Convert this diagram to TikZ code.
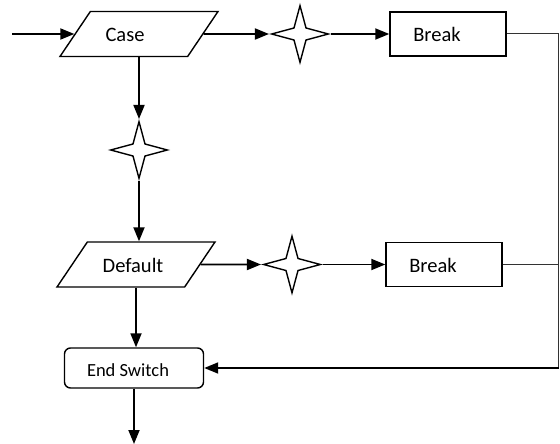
\documentclass[tikz,border=0pt]{standalone}
\usepackage{fontspec}
\setmainfont{Carlito}
\usetikzlibrary{shapes.geometric,arrows.meta}

\newcommand{\lefttext}[2][22pt]{#2\kern#1}

\tikzset{
    flow/.style={line width=1.8pt, -{Triangle[length=14pt,width=11pt]}},
    wire/.style={line width=1pt, black!80},
    label/.style={font=\fontsize{20.5}{24}\selectfont, text height=17pt, text depth=1pt},
    io/.style={label, draw, line width=1.4pt, trapezium, trapezium left angle=56,
        trapezium right angle=124, trapezium stretches body, inner ysep=13.5pt,
        minimum width=158pt, minimum height=45pt},
    box/.style={label, draw, line width=1.4pt, minimum width=116pt, minimum height=44pt},
    spark/.style={draw, line width=1.4pt, star, star points=4, star point ratio=0.3,
        shape border rotate=45, minimum size=17pt, inner sep=0pt},
}

\begin{document}
\begin{tikzpicture}[x=1pt,y=-1pt]
    \useasboundingbox (0,0) rectangle (560,444);
    \coordinate (in) at (12,34);
    \coordinate (out) at (134,444);
    \coordinate (rc) at (558.5,368);

    % case row
    \node[io] (case) at (139,34) {\lefttext[28pt]{Case}};
    \node[spark] (s1) at (300,34) {};
    \node[box] (b1) at (448,34) {\lefttext{Break}};

    \node[spark] (s2) at (139,150) {};

    % default row
    \node[io] (default) at (136,264.5) {\lefttext[6pt]{Default}};
    \node[spark] (s3) at (292,264.5) {};
    \node[box] (b2) at (444,264.5) {\lefttext{Break}};

    \node[label, font=\fontsize{18.5}{22}\selectfont, draw, line width=1.4pt,
        rounded corners=6pt, minimum width=139pt, minimum height=40pt]
        (endsw) at (134,368) {\lefttext[12pt]{End Switch}};

    \draw[flow] (in) -- (case.west);
    \draw[flow] (case.east) -- (s1.west);
    \draw[flow] (s1.east) -- (b1.west);
    \draw[flow] (case.south) -- (s2.north);
    \draw[flow] (s2.south) -- (s2.south |- default.north);
    \draw[flow] (default.east) -- (s3.west);
    \draw[flow] (s3.east) -- (b2.west);
    \draw[flow] (default.south) -- (default.south |- endsw.north);

    \draw[wire] (b1.east) -| (rc); % return line
    \draw[wire] (b2.east) -- (b2.east -| rc);
    \draw[flow] (rc) -- (endsw.east);
    \draw[flow] (endsw.south) -- (out);
\end{tikzpicture}
\end{document}
